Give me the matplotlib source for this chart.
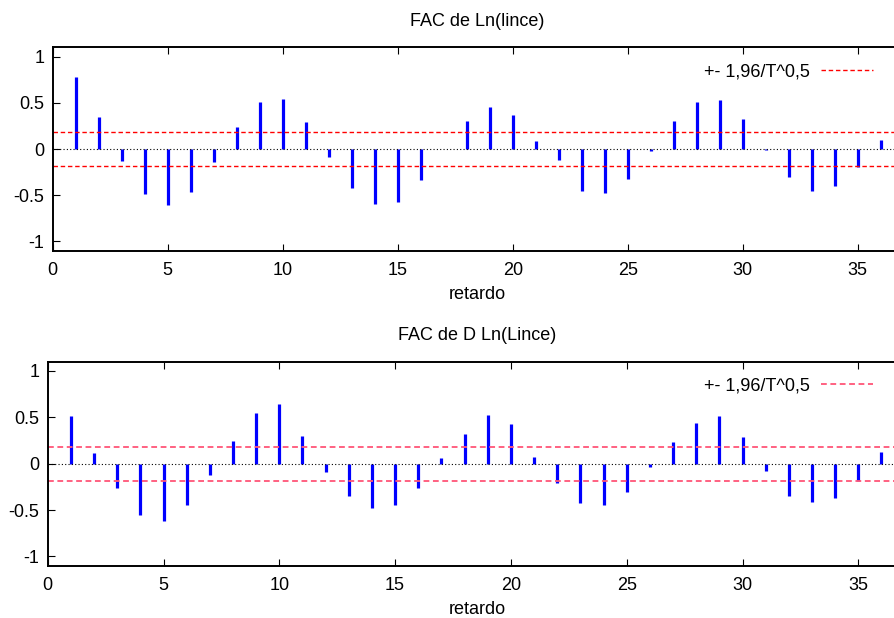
import numpy as np
import matplotlib.pyplot as plt
from matplotlib.lines import Line2D

plt.rcParams['font.family'] = ['Liberation Sans', 'DejaVu Sans']
plt.rcParams['font.size'] = 13

# retardos y autocorrelaciones
lags = np.arange(1, 37)
fac_ln = [0.78, 0.35, -0.13, -0.49, -0.61, -0.47, -0.14, 0.24, 0.51, 0.54,
          0.29, -0.09, -0.42, -0.60, -0.57, -0.34, 0.005, 0.30, 0.45, 0.37,
          0.09, -0.12, -0.45, -0.48, -0.32, -0.02, 0.30, 0.51, 0.53, 0.32,
          -0.01, -0.30, -0.45, -0.40, -0.20, 0.10]
fac_dln = [0.51, 0.12, -0.26, -0.55, -0.62, -0.45, -0.12, 0.25, 0.55, 0.64,
           0.30, -0.09, -0.35, -0.48, -0.44, -0.26, 0.06, 0.32, 0.53, 0.43,
           0.07, -0.21, -0.42, -0.45, -0.31, -0.04, 0.23, 0.44, 0.51, 0.29,
           -0.08, -0.35, -0.41, -0.37, -0.19, 0.13]
T_ln = 114
T_dln = 113

W, H = 894, 618
fig = plt.figure(figsize=(W / 100, H / 100), dpi=100)


def panel(rect, fac, T, titulo, title_y, xlabel_y, band_color, band_lw):
    left, top, bottom, right = rect
    ax = fig.add_axes([left / W, 1 - bottom / H, (right - left) / W, (bottom - top) / H])
    ax.vlines(lags, 0, fac, color='#0000ff', lw=2.3)
    ax.axhline(0, color='black', lw=0.8, ls=(0, (1, 2)))
    band = 1.96 / np.sqrt(T)
    ax.axhline(band, color=band_color, lw=band_lw, ls=(0, (3.2, 2)))
    ax.axhline(-band, color=band_color, lw=band_lw, ls=(0, (3.2, 2)))
    ax.set_xlim(0, 37)
    ax.set_ylim(-1.1, 1.1)
    ax.set_xticks(range(0, 36, 5))
    ax.set_yticks([-1, -0.5, 0, 0.5, 1])
    ax.set_yticklabels(['-1', '-0.5', '0', '0.5', '1'])
    ax.tick_params(direction='in', length=5, width=0.8, top=True, labelsize=13)
    ax.tick_params(axis='x', pad=8)
    ax.tick_params(axis='y', pad=6)
    for s in ax.spines.values():
        s.set_linewidth(1.4)
    handle = Line2D([], [], color=band_color, lw=band_lw, ls=(0, (3.2, 2)))
    ax.legend([handle], ['+- 1,96/T^0,5'], loc='upper right',
              bbox_to_anchor=(882 / W, 1 - (top + 7) / H),
              bbox_transform=fig.transFigure, frameon=False, markerfirst=False,
              handlelength=2.9, handletextpad=0.6, borderpad=0, fontsize=13)
    fig.text(477 / W, 1 - title_y / H, titulo, ha='center', va='center', fontsize=13)
    fig.text(477 / W, 1 - xlabel_y / H, 'retardo', ha='center', va='center', fontsize=13)
    return ax


panel((52.7, 47.3, 250.7, 52.7 + 37 * 23.0), fac_ln, T_ln,
      'FAC de Ln(lince)', 21, 295, 'red', 1.0)
panel((47.7, 361.7, 565.7, 47.7 + 37 * 23.16), fac_dln, T_dln,
      'FAC de D Ln(Lince)', 336, 609, '#ff5577', 1.3)

fig.savefig('out.png', dpi=100)
